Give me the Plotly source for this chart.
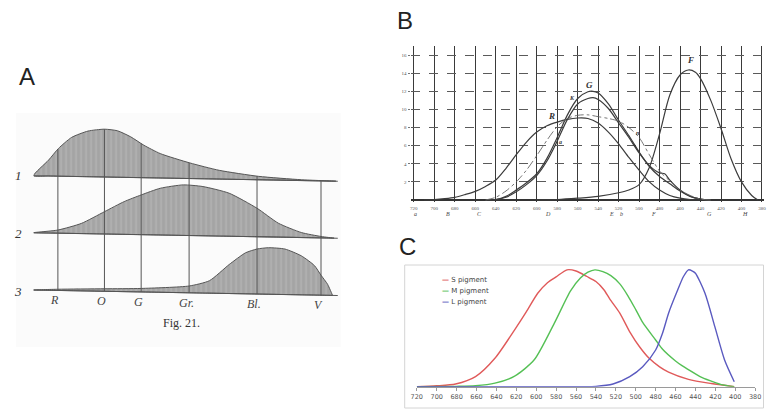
import numpy as np
import plotly.graph_objects as go

W, H = 770, 411

def fx(px):
    return px / W

def fy(py):
    return 1 - py / H

# ---------------- Panel A (Fig. 21) ----------------
a_row_base = [134.3, 77.3, 20.0]          # baseline level of rows 1,2,3
a_tilt = 5.5                               # baseline drop across the drawing
a_curve1_x = [0, 15.3, 25.3, 38.7, 55.3, 72, 85.3, 98.7, 112, 128.7, 158.7, 188.7, 228.7, 272, 307]
a_curve1_h = [0, 15.9, 27.7, 39.0, 45.6, 47.8, 46.4, 40.6, 32.5, 24.4, 15.6, 8.7, 3.4, 0.8, 0]
a_curve2_x = [0, 24.7, 48.7, 72, 92, 109.3, 128.7, 152, 172, 198.7, 227, 248.7, 272, 292, 305.3]
a_curve2_h = [0, 3.1, 10.2, 22.3, 32.7, 39.7, 46.7, 50.5, 49.2, 43.0, 28.5, 13.9, 5.0, 1.4, 0]
a_curve3_x = [0, 24.7, 72, 109.3, 158, 178.7, 198.7, 215.3, 227, 238.7, 255.3, 272, 285.3, 292, 298.7, 303.7]
a_curve3_h = [0, 1.2, 2.5, 3.5, 6.8, 12.5, 29.0, 41.0, 45.0, 46.5, 45.5, 39.0, 29.5, 20.0, 11.0, 0]
a_tick_x = [24.7, 72, 109.3, 158, 227, 292]
a_tick_labels = ["R", "O", "G", "Gr.", "Bl.", "V"]
a_row_labels = ["1", "2", "3"]

# ---------------- Panel B (König & Dieterici) ----------------
b_ticks = [720, 700, 680, 660, 640, 620, 600, 580, 560, 540, 520, 500, 480, 460, 440, 420, 400, 380]
b_yticks = [2, 4, 6, 8, 10, 12, 14, 16]
b_lines_lam = [718, 687, 656, 589, 527, 517, 486, 431, 397]
b_lines_lbl = ["a", "B", "C", "D", "E", "b", "F", "G", "H"]

b_R_lam = [710, 700, 690, 680, 670, 660, 650, 640, 630, 620, 610, 600, 590, 580, 570, 560, 550, 540, 530, 520, 510, 500, 490, 480, 470, 460, 450, 440]
b_R_val = [0, 0.05, 0.15, 0.3, 0.6, 0.95, 1.5, 2.2, 3.5, 5.0, 6.4, 7.5, 8.2, 8.6, 8.9, 9.05, 9.0, 8.5, 7.5, 6.2, 4.7, 3.3, 2.0, 1.1, 0.5, 0.2, 0.05, 0]

b_G_lam = [650, 640, 630, 620, 610, 600, 590, 580, 570, 560, 550, 545, 540, 530, 520, 510, 500, 490, 480, 470, 460, 450, 440, 430]
b_G_val = [0, 0.05, 0.4, 1.1, 1.9, 2.9, 4.6, 6.9, 9.4, 11.2, 11.95, 12.0, 11.8, 10.6, 8.8, 7.1, 5.3, 3.7, 2.6, 1.8, 1.0, 0.4, 0.1, 0]

b_K_lam = [650, 640, 630, 620, 610, 600, 590, 580, 570, 560, 550, 545, 540, 530, 520, 510, 500, 490, 480, 475, 470, 460, 450, 440, 430]
b_K_val = [0, 0.05, 0.3, 0.9, 1.7, 2.7, 4.3, 6.5, 8.9, 10.6, 11.2, 11.3, 11.1, 10.1, 8.5, 6.9, 5.2, 3.8, 3.0, 2.9, 2.2, 1.1, 0.4, 0.1, 0]

b_N_lam = [650, 640, 630, 620, 610, 600, 590, 580, 570, 560, 550, 540, 530, 520, 510, 500, 490, 480, 470, 460, 450, 440, 430]
b_N_val = [0, 0.3, 1.0, 2.0, 3.3, 4.9, 6.6, 8.1, 9.0, 9.35, 9.4, 9.2, 9.0, 8.7, 8.0, 6.9, 5.0, 3.2, 2.1, 1.1, 0.5, 0.1, 0]

b_F_lam = [600, 580, 560, 540, 520, 510, 500, 490, 480, 470, 460, 452, 445, 440, 430, 420, 410, 400, 390, 384]
b_F_val = [0, 0.05, 0.2, 0.4, 0.8, 1.1, 1.7, 3.6, 7.3, 11.6, 13.8, 14.35, 14.1, 13.4, 11.0, 7.9, 4.5, 2.0, 0.5, 0]

b_curve_labels = ["R", "G", "K", "a", "n", "F"]
b_label_lam = [586, 548, 566, 577, 501, 450]
b_label_val = [9.3, 12.7, 11.3, 6.4, 7.4, 15.4]

# ---------------- Panel C (pigment spectra) ----------------
c_ticks = [720, 700, 680, 660, 640, 620, 600, 580, 560, 540, 520, 500, 480, 460, 440, 420, 400, 380]

c_S_lam = [720, 700, 681, 661, 641.5, 621.7, 610, 598.5, 588.7, 580, 569, 560, 549, 540, 532, 526, 516, 506, 496, 486.5, 476, 467, 447, 424, 401]
c_S_val = [0, 0.008, 0.023, 0.086, 0.243, 0.486, 0.64, 0.80, 0.89, 0.94, 1.0, 0.99, 0.943, 0.90, 0.83, 0.75, 0.63, 0.47, 0.34, 0.243, 0.17, 0.125, 0.063, 0.027, 0]

c_M_lam = [720, 680, 661, 641.5, 621.7, 602, 582, 565.5, 555.6, 548, 541, 533, 525, 516, 508, 500, 493, 480, 473, 460, 453.5, 440, 433.7, 420, 414, 401]
c_M_val = [0, 0.003, 0.008, 0.03, 0.09, 0.23, 0.54, 0.82, 0.93, 0.98, 1.0, 0.985, 0.95, 0.88, 0.78, 0.66, 0.55, 0.40, 0.32, 0.22, 0.18, 0.11, 0.08, 0.035, 0.018, 0]

c_L_lam = [720, 600, 540, 522.8, 506, 493, 480, 473, 467, 458.5, 452, 447, 443, 440, 430.4, 420.5, 410.7, 401]
c_L_val = [0, 0, 0.003, 0.023, 0.086, 0.171, 0.314, 0.46, 0.629, 0.814, 0.943, 1.0, 0.99, 0.971, 0.8, 0.514, 0.229, 0.043]

c_names = ["S pigment", "M pigment", "L pigment"]
c_colors = ["#e05a5a", "#55c055", "#5a5ac0"]

fig = go.Figure()

# ---------- Panel A traces ----------
def base_at(row, u):
    return a_row_base[row] - a_tilt * np.asarray(u, dtype=float) / 310.0

a_curves = [(a_curve1_x, a_curve1_h), (a_curve2_x, a_curve2_h), (a_curve3_x, a_curve3_h)]
for row, (cx, ch) in enumerate(a_curves):
    cx = np.asarray(cx, dtype=float)
    top = base_at(row, cx) + np.asarray(ch)
    poly_x = np.concatenate([cx, cx[::-1]])
    poly_y = np.concatenate([top, base_at(row, cx[::-1])])
    fig.add_trace(go.Scatter(
        x=poly_x, y=poly_y, mode="lines", fill="toself",
        fillcolor="#a6a6a6",
        fillpattern=dict(shape="|", bgcolor="#a4a4a4", fgcolor="#c4c4c4", size=5, solidity=0.3),
        line=dict(color="#555555", width=1, shape="spline", smoothing=0.6),
        xaxis="x", yaxis="y", showlegend=False, hoverinfo="skip"))
    start = -3 if row == 2 else 0
    fig.add_trace(go.Scatter(
        x=[start, 309], y=base_at(row, [start, 309]), mode="lines",
        line=dict(color="#555555", width=1.1), xaxis="x", yaxis="y",
        showlegend=False, hoverinfo="skip"))

for tx in a_tick_x:
    top1 = base_at(0, tx) + np.interp(tx, a_curve1_x, a_curve1_h)
    fig.add_trace(go.Scatter(
        x=[tx, tx], y=[base_at(2, tx), top1], mode="lines",
        line=dict(color="#555555", width=1), xaxis="x", yaxis="y",
        showlegend=False, hoverinfo="skip"))

# ---------- Panel B traces ----------
for lam, val in [(b_R_lam, b_R_val), (b_G_lam, b_G_val), (b_K_lam, b_K_val), (b_F_lam, b_F_val)]:
    fig.add_trace(go.Scatter(
        x=lam, y=val, mode="lines",
        line=dict(color="#3c3c3c", width=1.2, shape="spline", smoothing=0.8),
        xaxis="x2", yaxis="y2", showlegend=False, hoverinfo="skip"))
fig.add_trace(go.Scatter(
    x=b_N_lam, y=b_N_val, mode="lines",
    line=dict(color="#666666", width=0.9, dash="dashdot", shape="spline", smoothing=0.8),
    xaxis="x2", yaxis="y2", showlegend=False, hoverinfo="skip"))

# ---------- Panel C traces ----------
for lam, val, nm, col in zip([c_S_lam, c_M_lam, c_L_lam], [c_S_val, c_M_val, c_L_val], c_names, c_colors):
    fig.add_trace(go.Scatter(
        x=lam, y=val, mode="lines", name=nm,
        line=dict(color=col, width=1.4, shape="spline", smoothing=0.7),
        xaxis="x3", yaxis="y3", showlegend=False, hoverinfo="skip"))

annotations = []
# Panel letters
for letter, cx, cy in [("A", 21.5, 76), ("B", 405.5, 20), ("C", 407.5, 246.5)]:
    annotations.append(dict(text=letter, x=fx(cx), y=fy(cy), xref="paper", yref="paper",
                            xanchor="center", yanchor="middle", showarrow=False,
                            font=dict(family="Liberation Sans, Arial", size=24, color="#222222")))

# Panel A labels (row numbers sit left of the drawing, in paper space)
for lbl, py in zip(a_row_labels, [176, 233, 291]):
    annotations.append(dict(text="<i>" + lbl + "</i>", x=fx(12.5), y=fy(py), xref="paper", yref="paper",
                            xanchor="center", yanchor="middle", showarrow=False,
                            font=dict(family="Liberation Serif", size=13, color="#333333")))
for tx, lbl in zip(a_tick_x, a_tick_labels):
    annotations.append(dict(text="<i>" + lbl + "</i>", x=tx, y=float(base_at(2, tx)), xref="x", yref="y",
                            xanchor="center", yanchor="top", xshift=-3, yshift=-1, showarrow=False,
                            font=dict(family="Liberation Serif", size=12, color="#444444")))
annotations.append(dict(text="Fig. 21.", x=fx(178), y=fy(323), xref="paper", yref="paper",
                        xanchor="center", yanchor="middle", showarrow=False,
                        font=dict(family="Liberation Serif", size=12, color="#333333")))

# Panel B labels
for lbl, lam, val in zip(b_curve_labels, b_label_lam, b_label_val):
    big = lbl in ("R", "G", "F")
    annotations.append(dict(text="<b><i>" + lbl + "</i></b>", x=lam, y=val, xref="x2", yref="y2",
                            xanchor="center", yanchor="middle", showarrow=False,
                            font=dict(family="Liberation Serif", size=9 if big else 6, color="#333333")))
for lam, lbl in zip(b_lines_lam, b_lines_lbl):
    annotations.append(dict(text="<i>" + lbl + "</i>", x=lam, y=fy(214), xref="x2", yref="paper",
                            xanchor="center", yanchor="middle", showarrow=False,
                            font=dict(family="Liberation Serif", size=6, color="#444444")))

# Panel C legend (text legend with coloured dashes)
for i, (nm, col) in enumerate(zip(c_names, c_colors)):
    annotations.append(dict(
        text='<span style="color:%s"><b>—</b></span> %s' % (col, nm),
        x=fx(441), y=fy(279.5 + 11 * i), xref="paper", yref="paper",
        xanchor="left", yanchor="middle", showarrow=False,
        font=dict(family="DejaVu Sans", size=7, color="#444444")))

shapes = [
    dict(type="rect", xref="paper", yref="paper", x0=fx(10), x1=fx(340), y0=fy(347), y1=fy(113),
         fillcolor="#fbfbfb", line=dict(width=0), layer="below"),
    dict(type="rect", xref="paper", yref="paper", x0=fx(405), x1=fx(769.5), y0=fy(408), y1=fy(265),
         fillcolor="rgba(0,0,0,0)", line=dict(color="#d4d4d4", width=1)),
]

fig.update_layout(
    width=W, height=H,
    margin=dict(l=0, r=0, t=0, b=0),
    paper_bgcolor="white", plot_bgcolor="rgba(0,0,0,0)",
    showlegend=False,
    annotations=annotations,
    shapes=shapes,
    xaxis=dict(domain=[fx(28), fx(338)], range=[0, 310], visible=False, anchor="y"),
    yaxis=dict(domain=[fy(310), fy(100)], range=[0, 210], visible=False, anchor="x"),
    xaxis2=dict(domain=[fx(411), 1.0], range=[723.2, 378], anchor="y2",
                tickmode="array", tickvals=b_ticks, ticktext=[str(t) for t in b_ticks],
                tickfont=dict(family="Liberation Serif", size=5, color="#555555"),
                showgrid=True, gridcolor="#3a3a3a", gridwidth=1.4,
                zeroline=False, showline=False, ticks="", ticklabelstandoff=2),
    yaxis2=dict(domain=[fy(202), fy(46)], range=[-0.22, 17.0], anchor="x2",
                tickmode="array", tickvals=b_yticks,
                tickfont=dict(family="Liberation Serif", size=5, color="#555555"),
                showgrid=True, gridcolor="#5a5a5a", gridwidth=1, griddash="dash",
                zeroline=True, zerolinecolor="#333333", zerolinewidth=1.5,
                showline=False, ticks="outside", ticklen=2, tickcolor="#777777"),
    xaxis3=dict(domain=[fx(417.3), fx(761)], range=[720, 380], anchor="y3",
                tickmode="array", tickvals=c_ticks,
                tickfont=dict(family="DejaVu Sans", size=6.5, color="#555555"),
                showgrid=False, zeroline=False, showline=True, linecolor="#9a9a9a", linewidth=1,
                ticks="outside", ticklen=3, tickcolor="#9a9a9a"),
    yaxis3=dict(domain=[fy(386.7), fy(264)], range=[0, 1.05], visible=False, anchor="x3"),
)

fig.write_html("out.html", config={"displayModeBar": False},
               post_script="document.body.style.margin='0';")
